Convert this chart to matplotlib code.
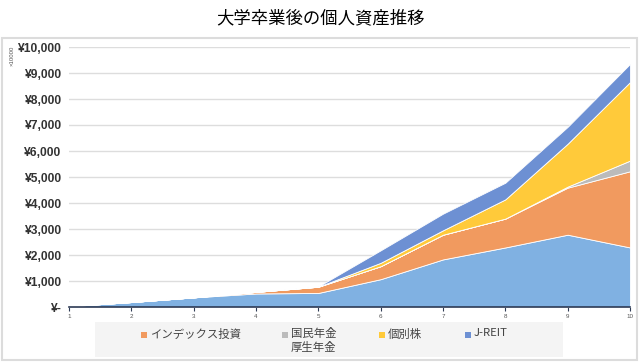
import matplotlib
matplotlib.use("Agg")
import matplotlib.pyplot as plt
from matplotlib.patches import Rectangle
from matplotlib.ticker import FuncFormatter

plt.rcParams['font.family'] = ['Noto Sans CJK JP', 'DejaVu Sans']

years = [1, 2, 3, 4, 5, 6, 7, 8, 9, 10]
savings = [30, 190, 370, 520, 540, 1070, 1830, 2290, 2780, 2290]
index_fund = [0, 0, 0, 60, 240, 500, 950, 1110, 1810, 2930]
pension = [0, 0, 0, 0, 0, 0, 0, 0, 40, 410]
stocks = [0, 0, 0, 0, 0, 130, 170, 740, 1650, 3020]
jreit = [0, 0, 0, 0, 10, 480, 640, 640, 650, 700]

labels = ['', 'インデックス投資', '国民年金\n厚生年金', '個別株', 'J-REIT']
colors = ['#80B1E2', '#F19A5F', '#BBBBBB', '#FFCA3A', '#6D90D3']
yticks = [0, 1000, 2000, 3000, 4000, 5000, 6000, 7000, 8000, 9000, 10000]

W, H = 640, 363
fig = plt.figure(figsize=(6.4, 3.63), dpi=100)
ax = fig.add_axes([69/W, 1-307/H, (630-69)/W, (307-47)/H])

polys = ax.stackplot(years, savings, index_fund, pension, stocks, jreit,
                     colors=colors, edgecolor='white', linewidth=0.6)

ax.set_xlim(1, 10)
ax.set_ylim(0, 10000)
ax.set_yticks(yticks)
ax.yaxis.set_major_formatter(FuncFormatter(lambda v, p: '¥-' if v == 0 else f'¥{int(v):,}'))
ax.set_xticks(years)
ax.grid(axis='y', color='#dddddd', linewidth=1)
ax.set_axisbelow(True)
for s in ['top', 'right', 'left']:
    ax.spines[s].set_visible(False)
ax.spines['bottom'].set_color('#2e3b55')
ax.spines['bottom'].set_linewidth(1.2)
ax.tick_params(axis='y', length=0, pad=6, labelsize=8.7, labelcolor='#333333')
for t in ax.get_yticklabels():
    t.set_fontweight('bold')
    t.set_family(['Liberation Sans', 'DejaVu Sans'])
ax.tick_params(axis='x', length=3, color='#2e3b55', labelsize=4.5, labelcolor='#555555', pad=2)
for t in ax.get_xticklabels():
    t.set_family(['Liberation Sans', 'DejaVu Sans'])

fig.text(12/W, 1-56/H, '×10000', rotation=90, fontsize=4.3, color='#555555',
         ha='center', va='center', family=['Liberation Sans', 'DejaVu Sans'])

fig.suptitle('大学卒業後の個人資産推移', y=1-18/H, fontsize=12.5, va='center')

# outer frame
fig.patches.append(Rectangle((1.5/W, 1-360/H), 635.5/W, (360-38)/H,
                             transform=fig.transFigure, fill=False,
                             edgecolor='#dcdcdc', linewidth=1.5))

# legend box
fig.patches.append(Rectangle((95/W, 1-357/H), (563-95)/W, (357-322)/H,
                             transform=fig.transFigure, facecolor='#f4f4f4',
                             edgecolor='none'))
marker_x = [141, 282, 379, 465]
for mx, lab, col in zip(marker_x, labels[1:], colors[1:]):
    fig.patches.append(Rectangle((mx/W, 1-338/H), 6/W, 6/H,
                                 transform=fig.transFigure, facecolor=col,
                                 edgecolor='none'))
    fig.text((mx+9)/W, 1-328.5/H, lab, fontsize=8.2, color='#444444',
             ha='left', va='top', linespacing=1.25,
             family=['Noto Sans CJK JP', 'DejaVu Sans'])

fig.savefig('out.png', dpi=100)
